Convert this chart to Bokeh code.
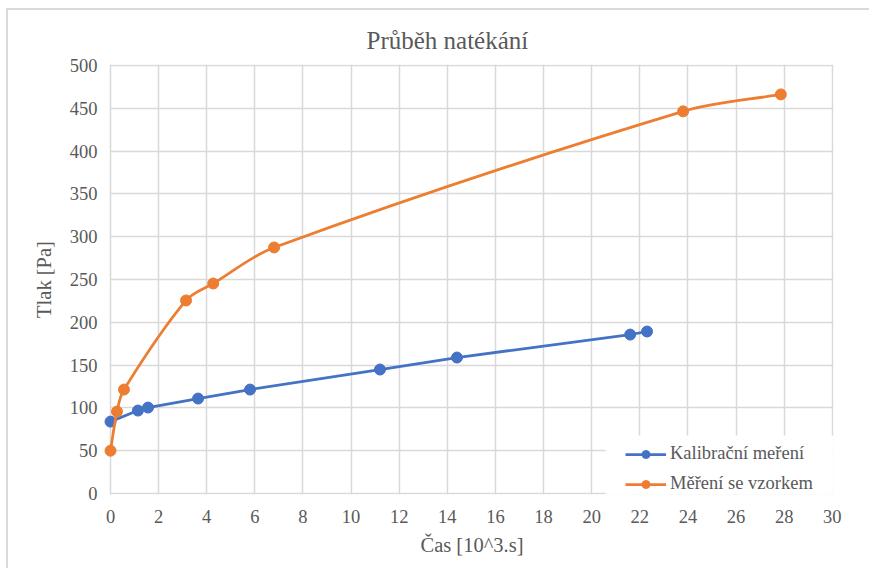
import math
from bokeh.plotting import figure
from bokeh.models import Legend, LegendItem, FixedTicker, Range1d, Title, BoxAnnotation
from bokeh.embed import file_html
from bokeh.resources import INLINE

# ---- data ----
blue_name = "Kalibrační meření"
blue_x = [0, 1.14, 1.56, 3.64, 5.8, 11.2, 14.4, 21.6, 22.3]
blue_y = [84.1, 97.0, 100.5, 111.0, 121.5, 144.9, 158.9, 185.7, 189.3]

orange_name = "Měření se vzorkem"
orange_x = [0, 0.27, 0.56, 3.14, 4.27, 6.8, 23.8, 27.86]
orange_y = [50.2, 95.8, 121.5, 225.5, 245.3, 287.4, 446.3, 466.1]

x_ticks = list(range(0, 31, 2))
y_ticks = list(range(0, 501, 50))

title_text = "Průběh natékání"
x_label = "Čas [10^3.s]"
y_label = "Tlak [Pa]"

BLUE = "#4472C4"
ORANGE = "#ED7D31"
GRID = "#d9d9d9"
TXT = "#595959"
FONT = "Liberation Serif"

# approximate pixel size of one data unit (used only to shape the smoothing)
PX_X = 24.05
PX_Y = 0.857


def smooth_segments(xs, ys, k=1.0 / 3.0):
    """Bezier control points for a smoothed line (chord-scaled tangents)."""
    n = len(xs)
    px = [x * PX_X for x in xs]
    py = [y * PX_Y for y in ys]
    tang = []
    for i in range(n):
        a = max(i - 1, 0)
        b = min(i + 1, n - 1)
        dx, dy = px[b] - px[a], py[b] - py[a]
        d = math.hypot(dx, dy) or 1.0
        tang.append((dx / d, dy / d))
    seg = dict(x0=[], y0=[], x1=[], y1=[], cx0=[], cy0=[], cx1=[], cy1=[])
    for i in range(n - 1):
        L = math.hypot(px[i + 1] - px[i], py[i + 1] - py[i])
        c0x = px[i] + tang[i][0] * L * k
        c0y = py[i] + tang[i][1] * L * k
        c1x = px[i + 1] - tang[i + 1][0] * L * k
        c1y = py[i + 1] - tang[i + 1][1] * L * k
        seg["x0"].append(xs[i]); seg["y0"].append(ys[i])
        seg["x1"].append(xs[i + 1]); seg["y1"].append(ys[i + 1])
        seg["cx0"].append(c0x / PX_X); seg["cy0"].append(c0y / PX_Y)
        seg["cx1"].append(c1x / PX_X); seg["cy1"].append(c1y / PX_Y)
    return seg


p = figure(
    width=863, height=560,
    x_range=Range1d(0, 30.05), y_range=Range1d(-1, 501),
    output_backend="svg", toolbar_location=None,
    min_border_left=102, min_border_right=38,
    min_border_top=54, min_border_bottom=76,
    background_fill_color="white", border_fill_color="white",
)
p.outline_line_color = None
p.styles = {"border-left": "2px solid #d9d9d9", "border-top": "2px solid #d9d9d9",
            "margin-left": "6px", "margin-top": "8px"}

p.title = Title(text=title_text, align="left", offset=256,
                text_font=FONT, text_font_size="25px",
                text_font_style="normal", text_color=TXT, standoff=21)

for ax in (p.xaxis[0], p.yaxis[0]):
    ax.major_tick_in = 0
    ax.major_tick_out = 0
    ax.minor_tick_in = 0
    ax.minor_tick_out = 0
    ax.major_label_text_font = FONT
    ax.major_label_text_font_size = "18.5px"
    ax.major_label_text_color = TXT
    ax.axis_label_text_font = FONT
    ax.axis_label_text_font_size = "20.5px"
    ax.axis_label_text_font_style = "normal"
    ax.axis_label_text_color = TXT

p.xaxis[0].axis_line_color = None
p.yaxis[0].axis_line_color = GRID
p.yaxis[0].axis_line_width = 1.5

p.xaxis[0].ticker = FixedTicker(ticks=x_ticks)
p.yaxis[0].ticker = FixedTicker(ticks=y_ticks)
p.xaxis[0].axis_label = x_label
p.yaxis[0].axis_label = y_label
p.xaxis[0].major_label_standoff = 15
p.yaxis[0].major_label_standoff = 13
p.xaxis[0].axis_label_standoff = 8
p.yaxis[0].axis_label_standoff = 12

p.xgrid.ticker = FixedTicker(ticks=x_ticks)
p.ygrid.ticker = FixedTicker(ticks=y_ticks)
p.xgrid.grid_line_color = GRID
p.ygrid.grid_line_color = GRID
p.xgrid.grid_line_width = 1.5
p.ygrid.grid_line_width = 1.5

# blue series
bl = p.line(blue_x, blue_y, line_color=BLUE, line_width=2.75, level="overlay")
bs = p.scatter(blue_x, blue_y, size=11, marker="circle", fill_color=BLUE,
               line_color=BLUE, level="overlay")

# orange series (smoothed)
seg = smooth_segments(orange_x, orange_y)
ob = p.bezier(x0=seg["x0"], y0=seg["y0"], x1=seg["x1"], y1=seg["y1"],
              cx0=seg["cx0"], cy0=seg["cy0"], cx1=seg["cx1"], cy1=seg["cy1"],
              line_color=ORANGE, line_width=2.75, level="overlay")
os_ = p.scatter(orange_x, orange_y, size=11, marker="circle", fill_color=ORANGE,
                line_color=ORANGE, level="overlay")

# white area behind the legend (as in the reference, it hides the grid there)
p.add_layout(BoxAnnotation(left=20.58, top=67.8, fill_color="white", fill_alpha=1.0,
                           line_color=None, level="annotation"))

legend = Legend(
    items=[LegendItem(label=blue_name, renderers=[bl, bs]),
           LegendItem(label=orange_name, renderers=[ob, os_])],
    location=(515, 0),
    orientation="vertical",
    label_text_font=FONT, label_text_font_size="18.5px", label_text_color=TXT,
    glyph_width=41, glyph_height=20, label_height=20, label_standoff=4,
    spacing=9, padding=2, margin=0,
    border_line_color=None, background_fill_color="white", background_fill_alpha=1.0,
)
p.add_layout(legend, "center")

open("out.html", "w").write(file_html(p, INLINE))
